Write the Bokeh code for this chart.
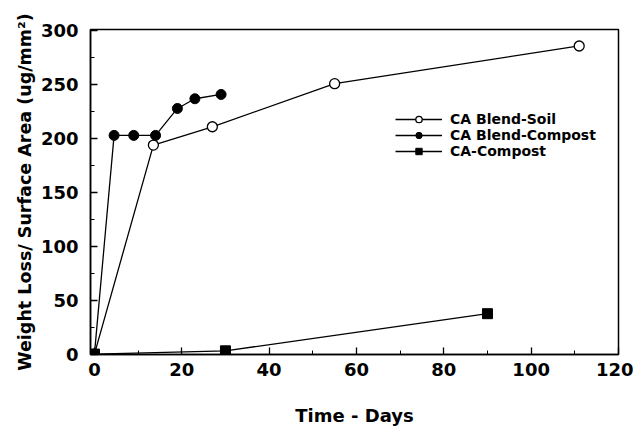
from bokeh.plotting import figure
from bokeh.models import Range1d, Legend, LegendItem, FixedTicker
from bokeh.embed import file_html
from bokeh.resources import INLINE

# Data
soil_days = [0, 13.5, 27, 55, 111]
soil_loss = [0, 194, 211, 251, 286]

blend_compost_days = [0, 4.5, 9, 14, 19, 23, 29]
blend_compost_loss = [0, 203, 203, 203, 228, 237, 241]

ca_compost_days = [0, 30, 90]
ca_compost_loss = [0, 3, 37.5]

x_ticks = [0, 20, 40, 60, 80, 100, 120]
y_ticks = [0, 50, 100, 150, 200, 250, 300]

FONT = "DejaVu Sans"

p = figure(width=633, height=428, output_backend="svg", toolbar_location=None,
           x_range=Range1d(-0.9, 120), y_range=Range1d(-0.4, 301.3),
           min_border_left=90, min_border_right=15, min_border_top=29, min_border_bottom=71)
p.xgrid.visible = False
p.ygrid.visible = False
p.outline_line_color = "black"
p.outline_line_width = 1.5
p.background_fill_color = "white"
p.border_fill_color = "white"

for ax in (p.xaxis[0], p.yaxis[0]):
    ax.axis_line_color = "black"
    ax.axis_line_width = 1.5
    ax.major_tick_in = 7
    ax.major_tick_out = 0
    ax.minor_tick_in = 4
    ax.minor_tick_out = 0
    ax.major_tick_line_width = 1.3
    ax.minor_tick_line_width = 1
    ax.major_label_text_font = FONT
    ax.major_label_text_font_style = "bold"
    ax.major_label_text_color = "black"
    ax.axis_label_text_font = FONT
    ax.axis_label_text_font_style = "bold"
    ax.axis_label_text_color = "black"

p.xaxis[0].ticker = FixedTicker(ticks=x_ticks, minor_ticks=[10, 30, 50, 70, 90, 110])
p.yaxis[0].ticker = FixedTicker(ticks=y_ticks, minor_ticks=[25, 75, 125, 175, 225, 275])
p.xaxis[0].major_label_text_font_size = "18px"
p.yaxis[0].major_label_text_font_size = "18px"
p.xaxis[0].major_label_standoff = 8
p.yaxis[0].major_label_standoff = 12
p.xaxis[0].axis_label = "Time - Days"
p.yaxis[0].axis_label = "Weight Loss/ Surface Area (ug/mm²)"
p.xaxis[0].axis_label_text_font_size = "18px"
p.yaxis[0].axis_label_text_font_size = "17.5px"
p.xaxis[0].axis_label_standoff = 26
p.yaxis[0].axis_label_standoff = 3

l1 = p.line(soil_days, soil_loss, line_color="black", line_width=1.3)
s1 = p.scatter(soil_days, soil_loss, marker="circle", size=10, fill_color="white",
               line_color="black", line_width=1.3)
l2 = p.line(blend_compost_days, blend_compost_loss, line_color="black", line_width=1.3)
s2 = p.scatter(blend_compost_days, blend_compost_loss, marker="circle", size=10,
               fill_color="black", line_color="black")
l3 = p.line(ca_compost_days, ca_compost_loss, line_color="black", line_width=1.3)
s3 = p.scatter(ca_compost_days, ca_compost_loss, marker="square", size=10,
               fill_color="black", line_color="black")

legend = Legend(items=[
    LegendItem(label="CA Blend-Soil", renderers=[l1, s1]),
    LegendItem(label="CA Blend-Compost", renderers=[l2, s2]),
    LegendItem(label="CA-Compost", renderers=[l3, s3]),
], location=(305, 195))
legend.glyph_width = 47
legend.glyph_height = 16
legend.spacing = 0
legend.padding = 0
legend.margin = 0
legend.label_standoff = 8
legend.border_line_color = None
legend.background_fill_alpha = 0
legend.label_text_font = FONT
legend.label_text_font_style = "bold"
legend.label_text_font_size = "14px"
legend.label_text_color = "black"
legend.label_height = 16
p.add_layout(legend, "center")

open("out.html", "w").write(file_html(p, INLINE))
